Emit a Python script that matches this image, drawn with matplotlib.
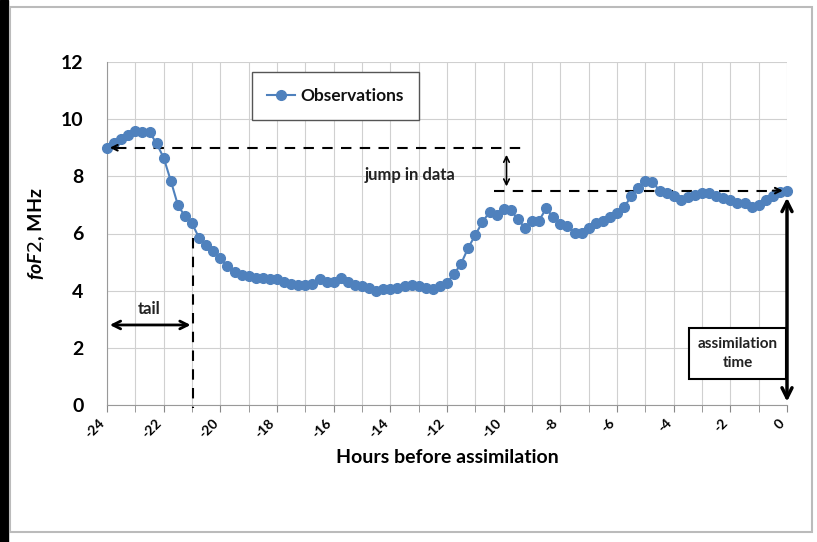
import matplotlib
matplotlib.use("Agg")
import matplotlib.pyplot as plt
from matplotlib.patches import Rectangle
import numpy as np

plt.rcParams['font.family'] = ['Lato', 'DejaVu Sans']
plt.rcParams['mathtext.fontset'] = 'custom'
plt.rcParams['mathtext.it'] = 'Lato:italic:bold'

# observations every 15 min, 24 h before assimilation
fof2 = [9.00, 9.15, 9.30, 9.45, 9.60, 9.55, 9.55, 9.15, 8.65,
        7.85, 7.00, 6.60, 6.35, 5.85, 5.60, 5.40, 5.15,
        4.85, 4.65, 4.55, 4.50, 4.45, 4.45, 4.40, 4.40,
        4.30, 4.22, 4.20, 4.20, 4.25, 4.40, 4.30, 4.30,
        4.45, 4.30, 4.20, 4.15, 4.08, 4.00, 4.05, 4.05,
        4.08, 4.18, 4.20, 4.18, 4.08, 4.05, 4.15, 4.28,
        4.58, 4.95, 5.50, 5.95, 6.40, 6.75, 6.65, 6.85,
        6.82, 6.50, 6.20, 6.45, 6.45, 6.88, 6.56, 6.33,
        6.26, 6.03, 6.03, 6.18, 6.36, 6.45, 6.56, 6.70,
        6.91, 7.31, 7.60, 7.85, 7.81, 7.50, 7.40, 7.31,
        7.17, 7.29, 7.35, 7.40, 7.40, 7.31, 7.23, 7.17,
        7.08, 7.05, 6.91, 7.00, 7.17, 7.31, 7.46, 7.50]
hours = np.linspace(-24, 0, len(fof2))

x_ticks = list(range(-24, 1, 2))
y_ticks = list(range(0, 13, 2))

blue = '#4F81BD'

fig = plt.figure(figsize=(8.17, 5.42), dpi=100)
fig.patches.append(Rectangle((0, 0), 8 / 817, 1, transform=fig.transFigure,
                             color='black', zorder=0))
fig.patches.append(Rectangle((10 / 817, 10 / 542), 802 / 817, 525 / 542,
                             transform=fig.transFigure, fill=False,
                             edgecolor='#bbbbbb', lw=1.5, zorder=0))
ax = fig.add_axes([107 / 817, 137 / 542, 680 / 817, 343 / 542])

ax.plot(hours, fof2, '-o', color=blue, lw=1.5, markersize=7,
        label='Observations', clip_on=False, zorder=3)

ax.set_xlim(-24, 0)
ax.set_ylim(0, 12)
ax.set_xticks(np.arange(-24, 1, 1), minor=True)
ax.set_xticks(x_ticks)
ax.set_xticklabels([str(t) for t in x_ticks], rotation=45, ha='right',
                   va='top', fontsize=10, fontweight='bold')
ax.set_yticks(y_ticks)
ax.set_yticklabels([str(t) for t in y_ticks], fontsize=14, fontweight='bold')
ax.grid(True, which='both', color='#d0d0d0', lw=0.8)
ax.set_axisbelow(True)
ax.tick_params(axis='x', which='both', length=5, color='#888888', direction='out')
ax.tick_params(axis='y', length=0, pad=17)
for s in ['top', 'right']:
    ax.spines[s].set_visible(False)
for s in ['left', 'bottom']:
    ax.spines[s].set_color('#999999')

ax.set_xlabel('Hours before assimilation', fontsize=14, fontweight='bold',
              labelpad=6)
ax.set_ylabel(r'$\mathit{foF2}$' + ', MHz', fontsize=14, fontweight='bold',
              labelpad=10)

leg = ax.legend(loc='upper left', bbox_to_anchor=(0.2, 0.995), fancybox=False,
                framealpha=1, edgecolor='#555555', fontsize=12.5,
                handlelength=1.6, handletextpad=0.3, borderpad=0.9)
leg.get_frame().set_linewidth(1.0)
plt.setp(leg.get_texts(), fontweight='bold', color='#111111')

# jump in data
ax.plot([-23.7, -9.35], [9.0, 9.0], '--', color='black', lw=1.5, dashes=(5, 4))
ax.annotate('', xy=(-24, 9.0), xytext=(-23.5, 9.0),
            arrowprops=dict(arrowstyle='->', color='black', lw=1.5))
ax.plot([-10.35, -0.4], [7.5, 7.5], '--', color='black', lw=1.5, dashes=(5, 4))
ax.annotate('', xy=(-0.05, 7.5), xytext=(-0.6, 7.5),
            arrowprops=dict(arrowstyle='->', color='black', lw=1.5))
ax.annotate('', xy=(-9.9, 8.85), xytext=(-9.9, 7.55),
            arrowprops=dict(arrowstyle='<->', color='black', lw=1.2))
ax.text(-13.3, 8.05, 'jump in data', fontsize=12, fontweight='bold',
        color='#222222', ha='center', va='center')

# tail
ax.plot([-20.95, -20.95], [5.85, -0.1], '--', color='black', lw=1.5,
        dashes=(5, 4), clip_on=False)
ax.annotate('', xy=(-24, 2.8), xytext=(-20.95, 2.8),
            arrowprops=dict(arrowstyle='<->', color='black', lw=2,
                            mutation_scale=14))
ax.text(-22.5, 3.35, 'tail', fontsize=12, fontweight='bold',
        color='#222222', ha='center', va='center')

# assimilation time
ax.annotate('', xy=(0, 7.35), xytext=(0, 0.02), annotation_clip=False,
            arrowprops=dict(arrowstyle='<->', color='black', lw=2.5,
                            mutation_scale=18))
ax.text(-1.75, 1.8, 'assimilation\ntime', fontsize=11, fontweight='bold',
        color='#222222', ha='center', va='center', zorder=5, linespacing=1.5,
        bbox=dict(boxstyle='square,pad=0.55', fc='white', ec='black', lw=1.5))

fig.savefig('out.png', dpi=100)
